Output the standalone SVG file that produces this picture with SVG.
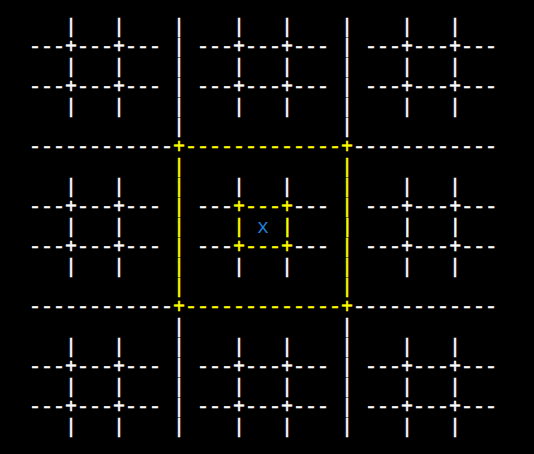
<svg xmlns="http://www.w3.org/2000/svg" width="534" height="454" viewBox="0 0 534 454">
<style>
text{font-family:"Liberation Mono","DejaVu Sans Mono",monospace;font-size:20px;fill:#ffffff;stroke:#ffffff;stroke-width:0.5;white-space:pre}
.y{fill:#ffff00;stroke:#ffff00}
.b{fill:#1e7fd6;stroke:none}
</style>
<rect width="534" height="454" fill="#000000"/>
<g id="grid" xml:space="preserve">
<text x="29" y="33">   |   |    |    |   |    |    |   |</text>
<text x="29" y="53">---+---+--- | ---+---+--- | ---+---+---</text>
<text x="29" y="73">   |   |    |    |   |    |    |   |</text>
<text x="29" y="93">---+---+--- | ---+---+--- | ---+---+---</text>
<text x="29" y="113">   |   |    |    |   |    |    |   |</text>
<text x="29" y="133">            |             |</text>
<text x="29" y="153">------------<tspan class="y">+-------------+</tspan>------------</text>
<text x="29" y="173" class="y">            |             |</text>
<text x="29" y="193">   |   |    <tspan class="y">|</tspan>    |   |    <tspan class="y">|</tspan>    |   |</text>
<text x="29" y="213">---+---+--- <tspan class="y">|</tspan> ---<tspan class="y">+---+</tspan>--- <tspan class="y">|</tspan> ---+---+---</text>
<text x="29" y="233">   |   |    <tspan class="y">|</tspan>    <tspan class="y">|</tspan> <tspan class="b">x</tspan> <tspan class="y">|</tspan>    <tspan class="y">|</tspan>    |   |</text>
<text x="29" y="253">---+---+--- <tspan class="y">|</tspan> ---<tspan class="y">+---+</tspan>--- <tspan class="y">|</tspan> ---+---+---</text>
<text x="29" y="273">   |   |    <tspan class="y">|</tspan>    |   |    <tspan class="y">|</tspan>    |   |</text>
<text x="29" y="293" class="y">            |             |</text>
<text x="29" y="313">------------<tspan class="y">+-------------+</tspan>------------</text>
<text x="29" y="333">            |             |</text>
<text x="29" y="353">   |   |    |    |   |    |    |   |</text>
<text x="29" y="373">---+---+--- | ---+---+--- | ---+---+---</text>
<text x="29" y="393">   |   |    |    |   |    |    |   |</text>
<text x="29" y="413">---+---+--- | ---+---+--- | ---+---+---</text>
<text x="29" y="433">   |   |    |    |   |    |    |   |</text>
</g>
</svg>
